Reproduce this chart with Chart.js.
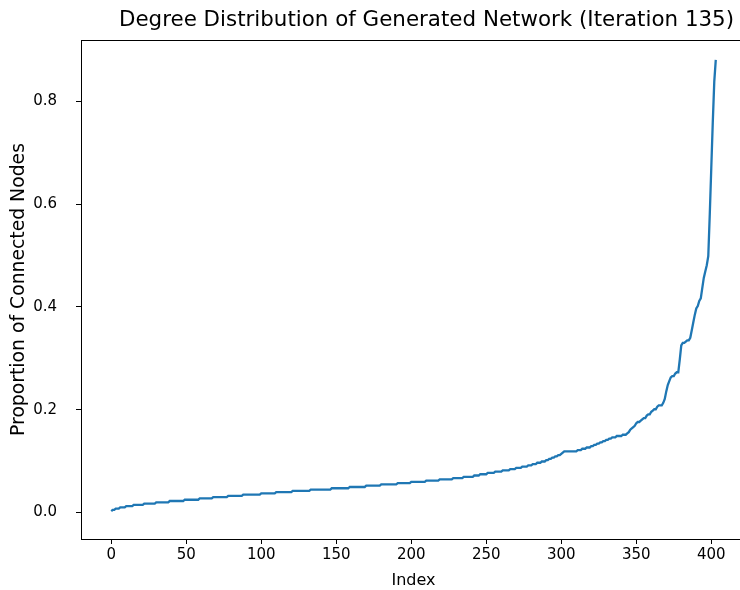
<!DOCTYPE html>
<html>
<head>
<meta charset="utf-8">
<script src="https://cdn.jsdelivr.net/npm/chart.js@4/dist/chart.umd.min.js"></script>
<style>
  html, body { margin: 0; padding: 0; background: #fff; overflow: hidden; }
  canvas { display: block; }
</style>
</head>
<body>
<canvas id="chart" width="760" height="590"></canvas>
<script>
// Sorted node degrees, stored as plateaus: each degree level and how many nodes share it.
const degreeLevels = [
  1, 2, 3, 4, 5, 6, 7, 8, 9, 10, 11, 12, 13, 14, 15, 16, 17, 18, 19, 20,
  21, 22, 23, 24, 25, 26, 27, 28, 29, 30, 31, 32, 33, 34, 35, 36, 37, 38, 39, 40,
  41, 42, 43, 44, 45, 46, 47, 48, 49, 50, 51, 52, 53, 54, 55, 56, 57, 58, 59, 60,
  61, 62, 63, 65, 66, 67, 68, 70, 71, 72, 73, 74, 76, 77, 79, 80, 81, 83, 84, 86,
  89, 95, 100, 103, 106, 107, 109, 110, 120, 131, 133, 134, 135, 137, 143, 149, 155, 160,
  162, 166, 168, 176, 184, 189, 194, 201, 234, 270, 306, 338, 355
];
const nodeCounts = [
  1, 2, 3, 4, 5, 7, 8, 9, 10, 10, 9, 10, 10, 12, 10, 11, 12, 14, 12, 11,
  10, 11, 9, 10, 9, 9, 7, 7, 4, 5, 5, 5, 5, 4, 4, 4, 3, 3, 3, 3,
  2, 2, 2, 2, 2, 1, 1, 9, 3, 3, 3, 2, 2, 2, 2, 2, 2, 2, 3, 4,
  3, 1, 1, 1, 1, 1, 1, 1, 2, 1, 1, 2, 1, 2, 1, 1, 2, 1, 3, 1,
  1, 1, 1, 1, 1, 2, 1, 2, 1, 1, 2, 1, 2, 1, 1, 1, 1, 1,
  1, 1, 1, 1, 1, 1, 1, 1, 1, 1, 1, 1, 1
];
const xTickValues = [0, 50, 100, 150, 200, 250, 300, 350, 400];
const yTickValues = [0.0, 0.2, 0.4, 0.6, 0.8];
const chartTitle = 'Degree Distribution of Generated Network (Iteration 135)';
const xAxisLabel = 'Index';
const yAxisLabel = 'Proportion of Connected Nodes';

// Expand plateaus into the sorted sequence; proportion = degree / (nodes - 1).
const sortedDegrees = [];
degreeLevels.forEach((d, i) => {
  for (let k = 0; k < nodeCounts[i]; k++) sortedDegrees.push(d);
});
const possibleLinks = sortedDegrees.length - 1;
const points = sortedDegrees.map((d, i) => ({ x: i, y: d / possibleLinks }));

const FONT = '"DejaVu Sans", sans-serif';
const tickFont = { family: FONT, size: 15 };

// Full axes frame plus the chart title above the plotting area.
const framePlugin = {
  id: 'frame',
  afterDatasetsDraw(chart) {
    const { ctx, chartArea: a } = chart;
    ctx.save();
    ctx.strokeStyle = '#000';
    ctx.lineWidth = 1;
    ctx.strokeRect(Math.round(a.left) + 0.5, Math.round(a.top) + 0.5,
                   Math.round(a.right - a.left), Math.round(a.bottom - a.top));
    ctx.fillStyle = '#000';
    ctx.font = '21.4px ' + FONT;
    ctx.textAlign = 'center';
    ctx.textBaseline = 'alphabetic';
    ctx.fillText(chartTitle, (a.left + a.right) / 2 + 13, 26);
    ctx.restore();
  }
};

new Chart(document.getElementById('chart'), {
  type: 'line',
  data: {
    datasets: [{
      data: points,
      borderColor: '#1f77b4',
      borderWidth: 2.3,
      pointRadius: 0,
      tension: 0,
      fill: false
    }]
  },
  options: {
    responsive: false,
    devicePixelRatio: 1,
    animation: false,
    layout: { padding: { left: 0, right: 14, top: 40, bottom: 0 } },
    plugins: { legend: { display: false }, tooltip: { enabled: false }, title: { display: false } },
    scales: {
      x: {
        type: 'linear',
        min: -20.15,
        max: 423.15,
        afterBuildTicks: s => { s.ticks = xTickValues.map(v => ({ value: v })); },
        afterFit: s => { s.height = 51; },
        ticks: { font: tickFont, color: '#000', padding: 2, maxRotation: 0, autoSkip: false,
                 callback: v => String(v) },
        grid: { drawOnChartArea: false, drawTicks: true, tickLength: 5, tickColor: '#000' },
        border: { display: false },
        title: { display: true, text: xAxisLabel, color: '#000', font: { family: FONT, size: 16 },
                 padding: { top: 0, bottom: 0 } }
      },
      y: {
        type: 'linear',
        min: -0.0516,
        max: 0.9197,
        afterBuildTicks: s => { s.ticks = yTickValues.map(v => ({ value: v })); },
        afterFit: s => { s.width = 81; },
        ticks: { font: tickFont, color: '#000', padding: 19, autoSkip: false,
                 callback: v => Number(v).toFixed(1) },
        grid: { drawOnChartArea: false, drawTicks: true, tickLength: 5, tickColor: '#000' },
        border: { display: false },
        title: { display: true, text: yAxisLabel, color: '#000', font: { family: FONT, size: 18.8 },
                 padding: { top: 8, bottom: 0 } }
      }
    }
  },
  plugins: [framePlugin]
});
</script>
</body>
</html>
